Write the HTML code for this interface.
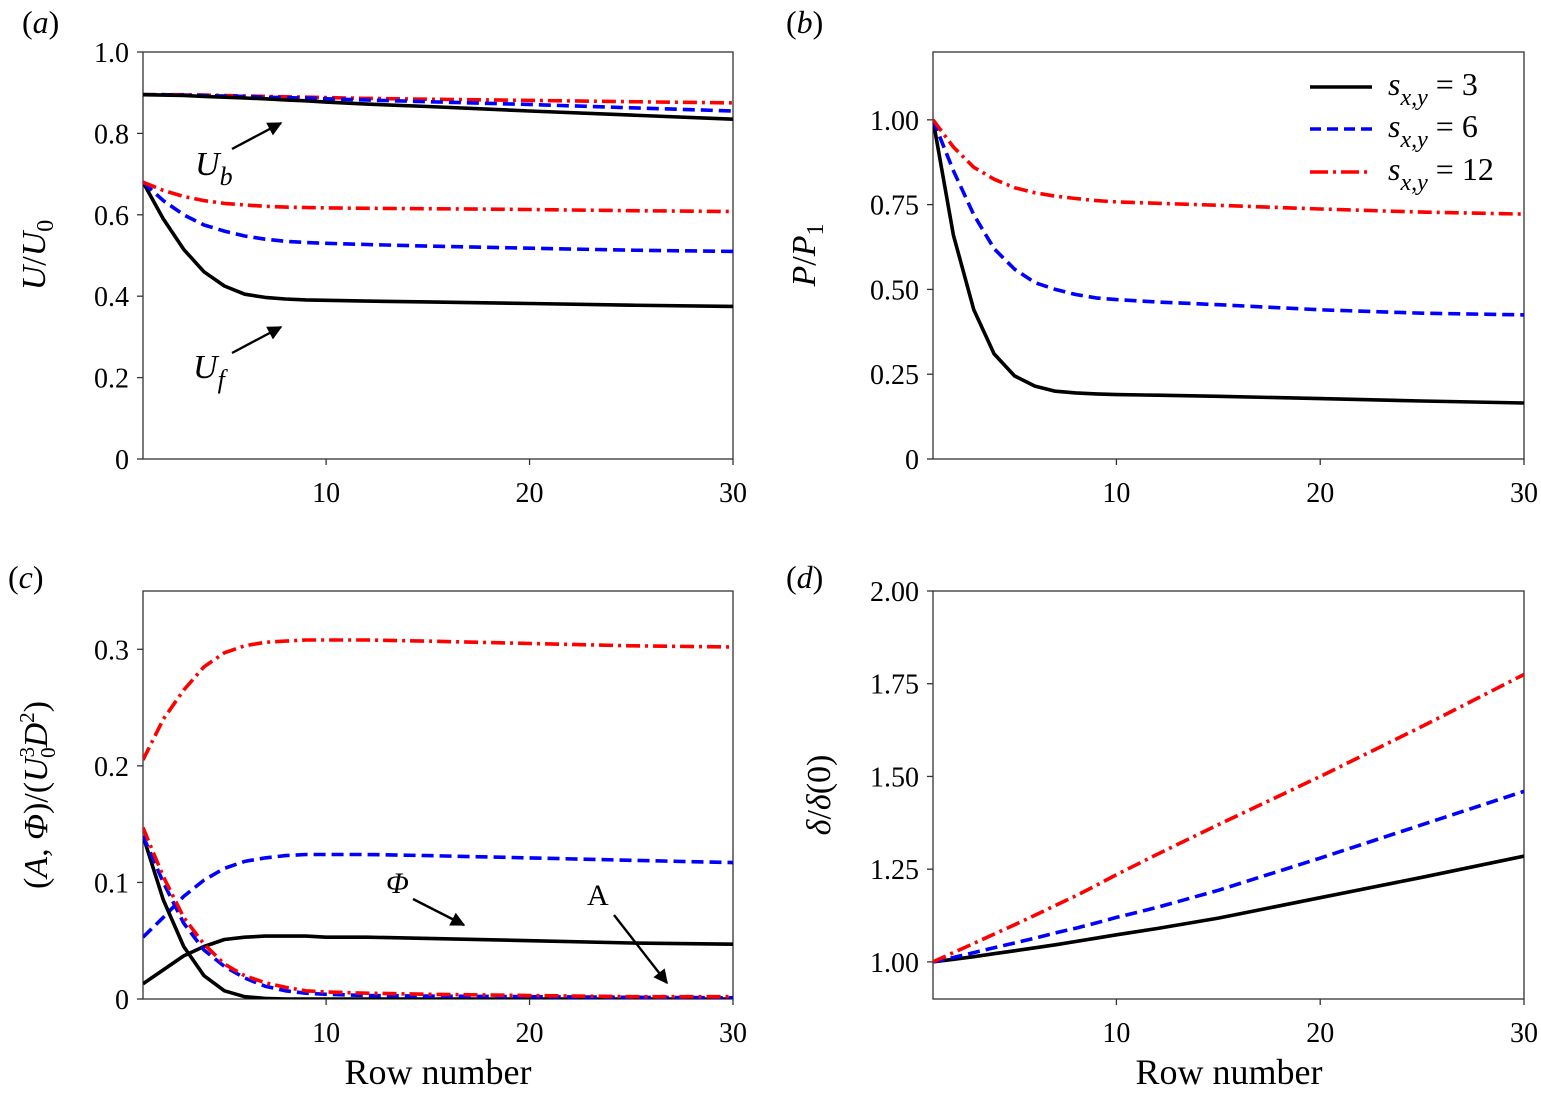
<!DOCTYPE html>
<html><head><meta charset="utf-8">
<style>
html,body{margin:0;padding:0;background:#fff;}
svg{display:block;font-family:"Liberation Serif",serif;}
</style></head>
<body>
<svg id="fig" width="1541" height="1097" viewBox="0 0 1541 1097" xmlns="http://www.w3.org/2000/svg">
<defs>
<marker id="arr" viewBox="0 0 10 10" refX="9" refY="5" markerWidth="7" markerHeight="6" orient="auto" markerUnits="strokeWidth">
<path d="M0,0 L10,5 L0,10 z" fill="#000"/></marker>
</defs>
</svg>
<script>
const rows = [1,2,3,4,5,6,7,8,9,10,12,15,20,25,30];
// (a)
const ubS3 = [0.895,0.894,0.893,0.891,0.889,0.887,0.885,0.882,0.88,0.877,0.872,0.866,0.855,0.845,0.835];
const ubS6 = [0.895,0.895,0.894,0.893,0.892,0.891,0.889,0.888,0.887,0.885,0.882,0.878,0.871,0.863,0.855];
const ubS12 = [0.895,0.895,0.895,0.894,0.893,0.892,0.891,0.890,0.889,0.888,0.886,0.884,0.881,0.878,0.875];
const ufS3 = [0.68,0.59,0.515,0.46,0.425,0.405,0.397,0.393,0.391,0.39,0.388,0.386,0.382,0.378,0.375];
const ufS6 = [0.68,0.635,0.6,0.575,0.56,0.548,0.54,0.535,0.532,0.53,0.527,0.523,0.518,0.513,0.51];
const ufS12 = [0.68,0.66,0.645,0.635,0.628,0.624,0.621,0.619,0.618,0.617,0.616,0.615,0.613,0.61,0.608];
// (b)
const pS3 = [1.0,0.66,0.44,0.31,0.245,0.215,0.2,0.195,0.192,0.19,0.188,0.185,0.178,0.171,0.165];
const pS6 = [1.0,0.85,0.72,0.62,0.56,0.52,0.5,0.485,0.475,0.47,0.463,0.455,0.44,0.43,0.425];
const pS12 = [1.0,0.92,0.86,0.825,0.8,0.785,0.775,0.768,0.762,0.758,0.754,0.748,0.737,0.728,0.722];
// (c)
const phiS12 = [0.205,0.24,0.265,0.285,0.297,0.303,0.306,0.307,0.308,0.308,0.308,0.307,0.305,0.303,0.302];
const phiS6 = [0.053,0.07,0.088,0.102,0.112,0.118,0.121,0.123,0.124,0.124,0.124,0.123,0.121,0.119,0.117];
const phiS3 = [0.013,0.025,0.037,0.045,0.051,0.053,0.054,0.054,0.054,0.053,0.053,0.052,0.05,0.048,0.047];
const aS3 = [0.14,0.085,0.045,0.02,0.007,0.002,0.0005,0,0,0,0,0,0,0,0];
const aS6 = [0.14,0.1,0.065,0.042,0.028,0.018,0.011,0.007,0.005,0.004,0.003,0.0025,0.002,0.0015,0.001];
const aS12 = [0.147,0.105,0.07,0.047,0.03,0.02,0.014,0.01,0.007,0.006,0.005,0.004,0.003,0.002,0.002];
// (d)
const dS3 = [1.0,1.007,1.014,1.022,1.03,1.038,1.046,1.055,1.064,1.073,1.09,1.118,1.173,1.228,1.285];
const dS6 = [1.0,1.012,1.025,1.038,1.051,1.064,1.078,1.091,1.105,1.12,1.147,1.193,1.28,1.37,1.46];
const dS12 = [1.0,1.025,1.05,1.075,1.1,1.126,1.152,1.178,1.206,1.235,1.29,1.37,1.5,1.635,1.775];
const xTicks = [10,20,30];
const yTicksA = ["0","0.2","0.4","0.6","0.8","1.0"];
const yTicksB = ["0","0.25","0.50","0.75","1.00"];
const yTicksC = ["0","0.1","0.2","0.3"];
const yTicksD = ["1.00","1.25","1.50","1.75","2.00"];

const NS = "http://www.w3.org/2000/svg";
const svg = document.getElementById('fig');
function mk(tag, attrs, parent){const e=document.createElementNS(NS,tag);for(const k in attrs)e.setAttribute(k,attrs[k]);(parent||svg).appendChild(e);return e;}
const STY = {
  s3:{stroke:'#000',dash:''},
  s6:{stroke:'#0000ff',dash:'12,6'},
  s12:{stroke:'#ff0000',dash:'14,5,3,5'}
};
function panel(name, L, T, R, B, ymin, ymax, yTicks){
  const g = mk('g',{});
  
  
  const sx = v => L + (v-1)/(29)*(R-L);
  const sy = v => B - (v-ymin)/(ymax-ymin)*(B-T);
  const box = mk('rect',{x:L,y:T,width:R-L,height:B-T,fill:'none',stroke:'#333','stroke-width':1.3},g);
  
  
  xTicks.forEach(t=>{
    mk('line',{x1:sx(t),x2:sx(t),y1:B,y2:B+6,stroke:'#333','stroke-width':1.3},g);
    const tx = mk('text',{x:sx(t),y:B+43,'font-size':28,'text-anchor':'middle'},g);
    tx.textContent=t;
    
    
  });
  yTicks.forEach(t=>{
    const v=parseFloat(t);
    mk('line',{x1:L-6,x2:L,y1:sy(v),y2:sy(v),stroke:'#333','stroke-width':1.3},g);
    const tx = mk('text',{x:L-14,y:sy(v)+10,'font-size':28,'text-anchor':'end'},g);
    tx.textContent=t;
    
    
  });
  const clip = 'clip-'+name;
  const cp = mk('clipPath',{id:clip},g); mk('rect',{x:L,y:T,width:R-L,height:B-T},cp);
  return {g, sx, sy, line(vals, key, nm){
    const d = vals.map((v,i)=>(i?'L':'M')+sx(rows[i]).toFixed(1)+','+sy(v).toFixed(1)).join(' ');
    const p = mk('path',{d, fill:'none', stroke:STY[key].stroke,'stroke-width':3.6,'stroke-dasharray':STY[key].dash,'stroke-linejoin':'round','clip-path':'url(#'+clip+')'},g);
    
    
  }};
}
function txt(s, attrs, nm){const t=mk('text',attrs);t.innerHTML=s;return t;}
function arrow(x1,y1,x2,y2,nm){const l=mk('line',{x1,y1,x2,y2,stroke:'#000','stroke-width':2.4,'marker-end':'url(#arr)'});}

const pa = panel('panel-a',143,52,733,459,0,1.0,yTicksA);
pa.line(ubS12,'s12','ub-line-s12'); pa.line(ubS6,'s6','ub-line-s6'); pa.line(ubS3,'s3','ub-line-s3');
pa.line(ufS3,'s3','uf-line-s3'); pa.line(ufS6,'s6','uf-line-s6'); pa.line(ufS12,'s12','uf-line-s12');
const pb = panel('panel-b',933,52,1524,459,0,1.2,yTicksB);
pb.line(pS3,'s3','p-line-s3'); pb.line(pS6,'s6','p-line-s6'); pb.line(pS12,'s12','p-line-s12');
const pc = panel('panel-c',143,591,733,999,0,0.35,yTicksC);
pc.line(phiS3,'s3','phi-line-s3'); pc.line(phiS6,'s6','phi-line-s6'); pc.line(phiS12,'s12','phi-line-s12');
pc.line(aS3,'s3','a-line-s3'); pc.line(aS6,'s6','a-line-s6'); pc.line(aS12,'s12','a-line-s12');
const pd = panel('panel-d',933,591,1524,999,0.9,2.0,yTicksD);
pd.line(dS3,'s3','delta-line-s3'); pd.line(dS6,'s6','delta-line-s6'); pd.line(dS12,'s12','delta-line-s12');

// panel labels
txt('(<tspan font-style="italic">a</tspan>)',{x:22,y:33,'font-size':32},'panel-label-a');
txt('(<tspan font-style="italic">b</tspan>)',{x:786,y:33,'font-size':32},'panel-label-b');
txt('(<tspan font-style="italic">c</tspan>)',{x:8,y:588,'font-size':32},'panel-label-c');
txt('(<tspan font-style="italic">d</tspan>)',{x:786,y:588,'font-size':32},'panel-label-d');

// axis labels
txt('<tspan font-style="italic">U</tspan>/<tspan font-style="italic">U</tspan><tspan font-size="24" dy="8">0</tspan>',{x:0,y:0,'font-size':34,'text-anchor':'middle',transform:'translate(45,255) rotate(-90)'},'y-axis-title-a');
txt('<tspan font-style="italic">P</tspan>/<tspan font-style="italic">P</tspan><tspan font-size="24" dy="8">1</tspan>',{x:0,y:0,'font-size':34,'text-anchor':'middle',transform:'translate(815,255) rotate(-90)'},'y-axis-title-b');
txt('(<tspan font-style="italic">A</tspan>, <tspan font-style="italic">Φ</tspan>)/(<tspan font-style="italic">U</tspan><tspan font-size="21" dy="-13">3</tspan><tspan font-size="21" dx="-11" dy="21">0</tspan><tspan font-style="italic" dy="-8">D</tspan><tspan font-size="21" dy="-13">2</tspan><tspan dy="13">)</tspan>',{x:0,y:0,'font-size':34,'text-anchor':'middle',transform:'translate(47,795) rotate(-90)'},'y-axis-title-c');
txt('<tspan font-style="italic">δ</tspan>/<tspan font-style="italic">δ</tspan>(0)',{x:0,y:0,'font-size':34,'text-anchor':'middle',transform:'translate(830,795) rotate(-90)'},'y-axis-title-d');
txt('Row number',{x:438,y:1084,'font-size':36,'text-anchor':'middle'},'x-axis-title-c');
txt('Row number',{x:1229,y:1084,'font-size':36,'text-anchor':'middle'},'x-axis-title-d');

// annotations
txt('<tspan font-style="italic">U</tspan><tspan font-style="italic" font-size="26" dy="10">b</tspan>',{x:195,y:175,'font-size':34},'annotation-ub');
arrow(232,149,281,123,'arrow-ub');
txt('<tspan font-style="italic">U</tspan><tspan font-style="italic" font-size="26" dy="10">f</tspan>',{x:193,y:378,'font-size':34},'annotation-uf');
arrow(232,353,281,327,'arrow-uf');
txt('<tspan font-style="italic">Φ</tspan>',{x:386,y:893,'font-size':30},'annotation-phi');
arrow(413,899,464,925,'arrow-phi');
txt('A',{x:587,y:905,'font-size':30},'annotation-a');
arrow(614,915,667,983,'arrow-a');

// legend
const leg=[['s3','3',87],['s6','6',129],['s12','12',172]];
leg.forEach(([k,v,y])=>{
  const l=mk('line',{x1:1310,x2:1372,y1:y,y2:y,stroke:STY[k].stroke,'stroke-width':3.6,'stroke-dasharray':k==='s6'?'11,6':(k==='s12'?'18,5,3,5':'')});
  
  
  txt('<tspan font-style="italic">s</tspan><tspan font-style="italic" font-size="24" dy="10">x,y</tspan><tspan dy="-10"> = '+v+'</tspan>',{x:1388,y:y+8,'font-size':32},'legend-entry-s'+v);
});
</script>
</body></html>
